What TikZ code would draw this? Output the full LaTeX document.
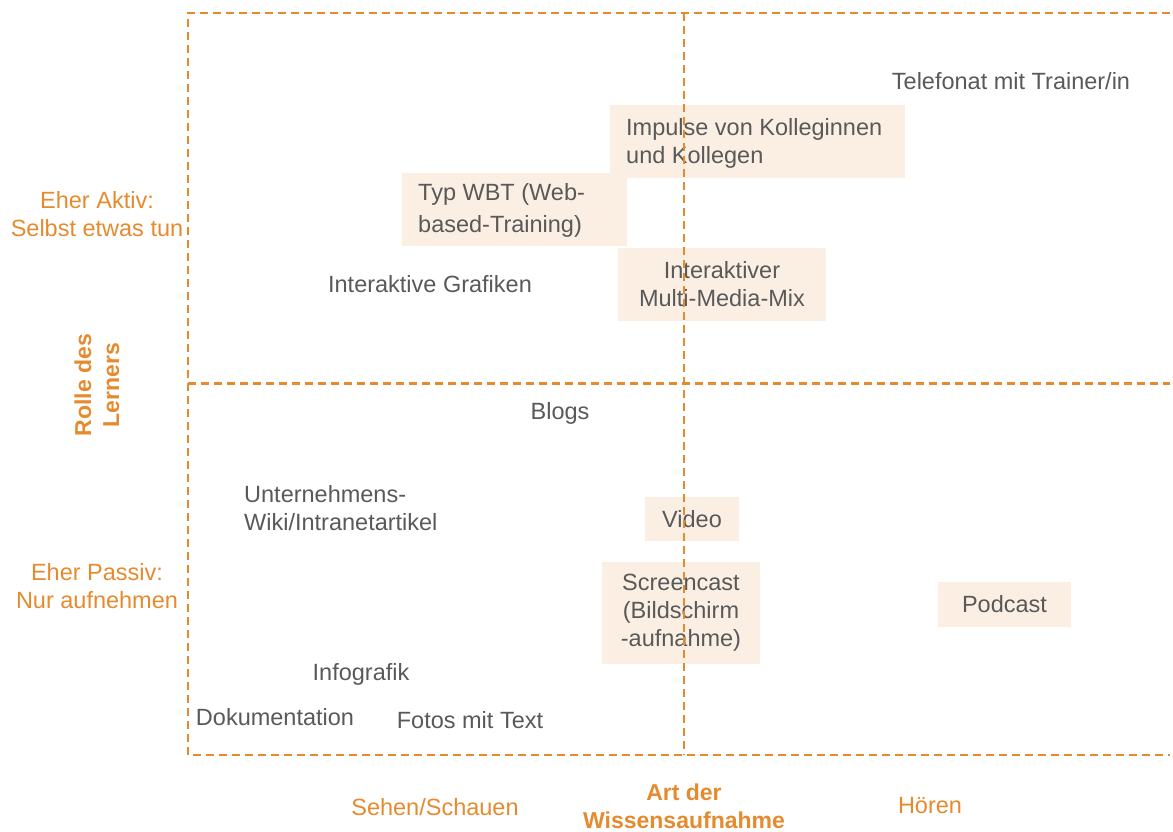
\documentclass[tikz,border=0pt]{standalone}
\usepackage{fontspec}
\setmainfont{Liberation Sans}
\definecolor{org}{HTML}{E68A2E}
\definecolor{txt}{HTML}{595959}
\definecolor{boxfill}{HTML}{FBEFE4}
\tikzset{
  item/.style={text=txt, font=\fontsize{23.5}{28}\selectfont, inner sep=0pt},
  itembox/.style={fill=boxfill, text=txt, font=\fontsize{23.5}{28}\selectfont, inner sep=0pt},
  axis/.style={text=org, font=\fontsize{23.5}{28}\selectfont, align=center, inner sep=0pt},
  axisbold/.style={text=org, font=\bfseries\fontsize{23}{28}\selectfont, align=center, inner sep=0pt},
  grid/.style={draw=org, line width=2pt, dash pattern=on 8pt off 5pt},
}
\begin{document}
\begin{tikzpicture}[x=1pt,y=-1pt]
\useasboundingbox (0,0) rectangle (1173,832);
% boxes
\node[itembox, minimum width=295, minimum height=73] (impulse) at (757.5,141.5) {};
\node[item, align=left, anchor=west] (impulsetext) at (626,143) {Impulse von Kolleginnen\\und Kollegen};
\node[itembox, minimum width=225, minimum height=73] (wbt) at (514.5,209.5) {};
\node[item, align=left, anchor=west] (wbttext) at (418,210) {Typ WBT (Web-\\[4pt]based-Training)};
\node[itembox, minimum width=208, minimum height=73, align=center] (mmm) at (722,284) {Interaktiver\\Multi-Media-Mix};
\node[itembox, minimum width=94, minimum height=44, align=center] (video) at (692,519) {Video};
\node[itembox, minimum width=158, minimum height=102, align=center] (screen) at (681,613) {Screencast\\(Bildschirm\\-aufnahme)};
\node[itembox, minimum width=133, minimum height=45, align=center] (podcast) at (1004.5,604.5) {Podcast};
% plain items
\node[item] (telefon) at (1011,81) {Telefonat mit Trainer/in};
\node[item] (grafiken) at (430,284) {Interaktive Grafiken};
\node[item] (blogs) at (560,413) {Blogs};
\node[item, align=left, anchor=west] (wiki) at (244,508) {Unternehmens-\\Wiki/Intranetartikel};
\node[item] (info) at (361,674) {Infografik};
\node[item] (doku) at (275,717) {Dokumentation};
\node[item] (fotos) at (470,720) {Fotos mit Text};
% axis labels
\node[axis] (aktiv) at (97,214) {Eher Aktiv:\\Selbst etwas tun};
\node[axis] (passiv) at (97,586) {Eher Passiv:\\Nur aufnehmen};
\node[axisbold, rotate=90] (rolle) at (97,385) {Rolle des\\Lerners};
\node[axis] (sehen) at (435,807) {Sehen/Schauen};
\node[axisbold] (art) at (684,806) {Art der\\Wissensaufnahme};
\node[axis] (hoeren) at (930,806) {Hören};
% grid lines
\coordinate (tl) at (188,13);
\coordinate (tr) at (1170,13);
\coordinate (bl) at (188,755);
\coordinate (br) at (1170,755);
\coordinate (tm) at (684,13);
\coordinate (bm) at (684,755);
\coordinate (ml) at (188,383);
\coordinate (mr) at (1170,383);
\draw[grid] (tr) -- (tl) -- (bl) -- (br);
\draw[grid] (tm) -- (bm);
\draw[grid, line width=3pt] (ml) -- (mr);
\end{tikzpicture}
\end{document}
